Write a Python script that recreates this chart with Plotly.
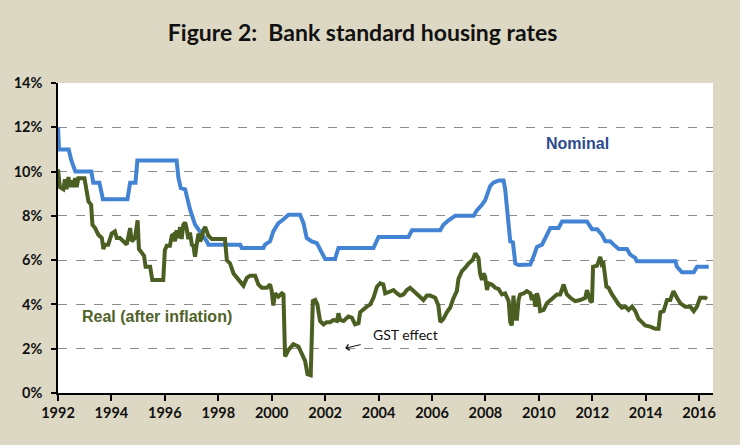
import plotly.graph_objects as go

# ---- data (decimal years, percent) ----
nominal_t = [1992.0, 1992.04, 1992.4, 1992.5, 1992.65, 1993.25, 1993.32, 1993.55, 1993.68, 1994.6,
             1994.7, 1994.9, 1994.97, 1996.44, 1996.51, 1996.6, 1996.76, 1996.94, 1997.13, 1997.26,
             1997.38, 1997.57, 1997.63, 1998.82, 1998.88, 1999.69, 1999.75, 1999.94, 2000.06, 2000.25,
             2000.4, 2000.63, 2001.06, 2001.19, 2001.31, 2001.5, 2001.69, 2001.88, 2002.0, 2002.37,
             2002.5, 2003.81, 2004.0, 2005.12, 2005.25, 2006.31, 2006.43, 2006.62, 2006.87, 2007.56,
             2007.68, 2007.87, 2007.99, 2008.18, 2008.3, 2008.5, 2008.68, 2008.74, 2008.93, 2009.03,
             2009.12, 2009.24, 2009.68, 2009.8, 2009.93, 2010.12, 2010.24, 2010.43, 2010.74, 2010.87,
             2011.8, 2011.99, 2012.18, 2012.36, 2012.49, 2012.67, 2012.8, 2012.99, 2013.3, 2013.42,
             2013.61, 2013.67, 2015.11, 2015.17, 2015.36, 2015.8, 2015.92, 2016.36]
nominal_v = [12.0, 11.0, 11.0, 10.5, 10.0, 10.0, 9.5, 9.5, 8.75, 8.75,
             9.5, 9.5, 10.5, 10.5, 9.7, 9.25, 9.2, 8.3, 7.6, 7.4,
             7.15, 6.85, 6.7, 6.7, 6.55, 6.55, 6.7, 6.85, 7.3, 7.67,
             7.8, 8.05, 8.05, 7.67, 7.0, 6.85, 6.77, 6.3, 6.05, 6.05,
             6.55, 6.55, 7.05, 7.05, 7.35, 7.35, 7.6, 7.8, 8.0, 8.0,
             8.25, 8.5, 8.7, 9.35, 9.5, 9.6, 9.6, 9.2, 6.85, 6.8,
             5.85, 5.78, 5.8, 6.15, 6.6, 6.7, 7.0, 7.45, 7.45, 7.75,
             7.75, 7.4, 7.4, 7.15, 6.85, 6.85, 6.7, 6.5, 6.5, 6.25,
             6.1, 5.95, 5.95, 5.7, 5.45, 5.45, 5.7, 5.7]

real_t = [1992.0, 1992.07, 1992.2, 1992.26, 1992.32, 1992.39, 1992.45, 1992.51, 1992.57, 1992.64,
          1992.7, 1992.76, 1992.99, 1993.07, 1993.14, 1993.24, 1993.29, 1993.39, 1993.51, 1993.64,
          1993.7, 1993.76, 1993.88, 1994.01, 1994.13, 1994.2, 1994.32, 1994.45, 1994.57, 1994.7,
          1994.76, 1994.88, 1994.98, 1995.03, 1995.13, 1995.22, 1995.28, 1995.45, 1995.53, 1995.94,
          1996.0, 1996.07, 1996.19, 1996.26, 1996.32, 1996.38, 1996.44, 1996.51, 1996.57, 1996.63,
          1996.69, 1996.76, 1996.82, 1996.88, 1996.94, 1997.01, 1997.07, 1997.13, 1997.19, 1997.26,
          1997.32, 1997.38, 1997.44, 1997.51, 1997.57, 1997.63, 1997.76, 1998.25, 1998.32, 1998.44,
          1998.57, 1998.69, 1998.82, 1998.94, 1999.07, 1999.19, 1999.38, 1999.5, 1999.63, 1999.82,
          1999.94, 2000.0, 2000.06, 2000.13, 2000.25, 2000.38, 2000.44, 2000.5, 2000.63, 2000.81,
          2001.0, 2001.13, 2001.25, 2001.34, 2001.46, 2001.54, 2001.63, 2001.71, 2001.81, 2001.94,
          2002.06, 2002.19, 2002.31, 2002.44, 2002.5, 2002.56, 2002.69, 2002.87, 2003.0, 2003.12,
          2003.25, 2003.31, 2003.43, 2003.56, 2003.69, 2003.81, 2003.94, 2004.06, 2004.18, 2004.25,
          2004.37, 2004.56, 2004.69, 2004.81, 2004.93, 2005.06, 2005.18, 2005.31, 2005.43, 2005.56,
          2005.68, 2005.81, 2005.93, 2006.12, 2006.24, 2006.31, 2006.43, 2006.56, 2006.68, 2006.81,
          2006.93, 2006.99, 2007.12, 2007.24, 2007.37, 2007.52, 2007.62, 2007.74, 2007.8, 2007.87,
          2007.93, 2007.99, 2008.06, 2008.12, 2008.24, 2008.37, 2008.49, 2008.62, 2008.74, 2008.87,
          2008.93, 2008.99, 2009.05, 2009.12, 2009.18, 2009.24, 2009.3, 2009.43, 2009.55, 2009.68,
          2009.74, 2009.8, 2009.87, 2009.93, 2009.99, 2010.05, 2010.18, 2010.3, 2010.43, 2010.55,
          2010.68, 2010.8, 2010.93, 2010.99, 2011.05, 2011.18, 2011.36, 2011.55, 2011.74, 2011.8,
          2011.93, 2011.99, 2012.03, 2012.18, 2012.3, 2012.36, 2012.42, 2012.53, 2012.61, 2012.74,
          2012.86, 2012.99, 2013.11, 2013.24, 2013.36, 2013.49, 2013.61, 2013.73, 2013.86, 2013.98,
          2014.17, 2014.36, 2014.48, 2014.55, 2014.67, 2014.8, 2014.92, 2015.04, 2015.17, 2015.3,
          2015.48, 2015.67, 2015.8, 2015.92, 2016.04, 2016.23, 2016.3]
real_v = [10.1, 9.3, 9.2, 9.65, 9.2, 9.75, 9.3, 9.6, 9.3, 9.7,
          9.3, 9.7, 9.7, 9.2, 8.65, 8.5, 7.6, 7.45, 7.15, 7.0,
          6.5, 6.7, 6.7, 7.2, 7.3, 7.0, 7.0, 6.85, 6.7, 7.45,
          6.85, 7.0, 7.8, 6.5, 6.3, 6.2, 5.7, 5.7, 5.1, 5.1,
          6.45, 6.65, 6.65, 7.1, 7.15, 6.85, 7.35, 7.0, 7.5, 6.95,
          7.6, 7.7, 7.4, 6.95, 7.25, 6.7, 6.65, 6.15, 6.7, 7.2,
          6.85, 7.0, 7.35, 7.5, 7.3, 7.1, 6.95, 6.95, 6.0, 5.85,
          5.4, 5.2, 5.05, 4.85, 5.2, 5.3, 5.3, 4.9, 4.75, 4.75,
          4.9, 4.6, 3.95, 4.5, 4.35, 4.5, 4.45, 1.65, 1.95, 2.2,
          2.1, 1.75, 1.45, 0.85, 0.8, 4.15, 4.2, 4.0, 3.25, 3.1,
          3.2, 3.2, 3.3, 3.25, 3.6, 3.3, 3.25, 3.45, 3.4, 3.1,
          3.15, 3.65, 3.8, 3.9, 4.0, 4.3, 4.8, 4.95, 4.9, 4.5,
          4.55, 4.65, 4.5, 4.4, 4.45, 4.65, 4.75, 4.6, 4.45, 4.3,
          4.2, 4.4, 4.4, 4.3, 3.95, 3.2, 3.35, 3.65, 3.85, 4.3,
          4.6, 5.15, 5.5, 5.65, 5.85, 6.0, 6.3, 6.1, 5.4, 5.1,
          5.4, 5.25, 4.65, 4.95, 4.9, 4.75, 4.7, 4.45, 4.5, 4.15,
          3.2, 3.05, 4.4, 3.35, 3.35, 4.2, 4.45, 4.5, 4.6, 4.5,
          4.2, 4.45, 3.9, 4.5, 4.25, 3.7, 3.75, 4.05, 4.2, 4.35,
          4.45, 4.45, 4.9, 4.65, 4.45, 4.3, 4.15, 4.2, 4.3, 4.65,
          4.15, 4.1, 5.7, 5.75, 6.15, 5.8, 5.85, 4.8, 4.75, 4.45,
          4.2, 4.0, 3.85, 3.9, 3.75, 3.9, 3.7, 3.35, 3.2, 3.05,
          3.0, 2.9, 2.9, 3.65, 3.7, 4.2, 4.2, 4.6, 4.3, 4.05,
          3.9, 3.9, 3.7, 3.9, 4.3, 4.3, 4.25]

x_ticks = [1992, 1994, 1996, 1998, 2000, 2002, 2004, 2006, 2008, 2010, 2012, 2014, 2016]
y_ticks = [0, 2, 4, 6, 8, 10, 12, 14]
y_labels = [f"{v}%" for v in y_ticks]

BG = "#DDD8C3"
BLUE = "#4383D3"
OLIVE = "#4B5F22"

fig = go.Figure()
fig.add_trace(go.Scatter(x=nominal_t, y=nominal_v, mode="lines", name="Nominal",
                         line=dict(color=BLUE, width=4)))
fig.add_trace(go.Scatter(x=real_t, y=real_v, mode="lines", name="Real (after inflation)",
                         line=dict(color=OLIVE, width=4)))

fig.update_layout(
    width=740, height=445,
    margin=dict(l=58, r=27, t=83, b=52),
    paper_bgcolor=BG, plot_bgcolor="white",
    showlegend=False,
    title=dict(text="<b>Figure 2:  Bank standard housing rates</b>",
               x=0.49, xanchor="center", y=1 - 33 / 445, yanchor="middle",
               font=dict(family="Lato", size=23, color="#111111")),
    xaxis=dict(range=[1992, 2016.52], tickvals=x_ticks, ticktext=[str(v) for v in x_ticks],
               showgrid=False, zeroline=False, showline=True, linecolor="black", linewidth=1.5,
               ticks="outside", ticklen=6, tickcolor="black", tickwidth=1.5,
               tickfont=dict(family="Lato", size=14.5, color="#111111", weight="bold")),
    yaxis=dict(range=[0, 14], tickvals=y_ticks, ticktext=y_labels,
               showgrid=True, gridcolor="#8C8C8C", griddash="dash", gridwidth=1,
               zeroline=False, showline=True, linecolor="black", linewidth=1.5,
               ticks="outside", ticklen=5, tickcolor="black", tickwidth=1.5,
               ticklabelstandoff=6,
               tickfont=dict(family="Lato", size=14.5, color="#111111", weight="bold")),
    annotations=[
        dict(x=2011.43, y=11.27, xref="x", yref="y", text="<b>Nominal</b>", showarrow=False,
             font=dict(family="Liberation Sans", size=16, color="#2B4C8C")),
        dict(x=1995.69, y=3.44, xref="x", yref="y", text="<b>Real (after inflation)</b>",
             showarrow=False, font=dict(family="Liberation Sans", size=16, color="#4F6228")),
        dict(x=2005.01, y=2.62, xref="x", yref="y", text="GST effect", showarrow=False,
             font=dict(family="Lato", size=14, color="#111111")),
        dict(x=2002.75, y=2.02, xref="x", yref="y", text="", showarrow=True,
             ax=17, ay=-4, axref="pixel", ayref="pixel", arrowhead=4, arrowsize=1.2,
             arrowwidth=1, arrowcolor="#111111", standoff=0),
    ],
)

fig.write_html("out.html", config={"displayModeBar": False},
               post_script="document.body.style.margin='0';document.body.style.background='" + BG + "';")
